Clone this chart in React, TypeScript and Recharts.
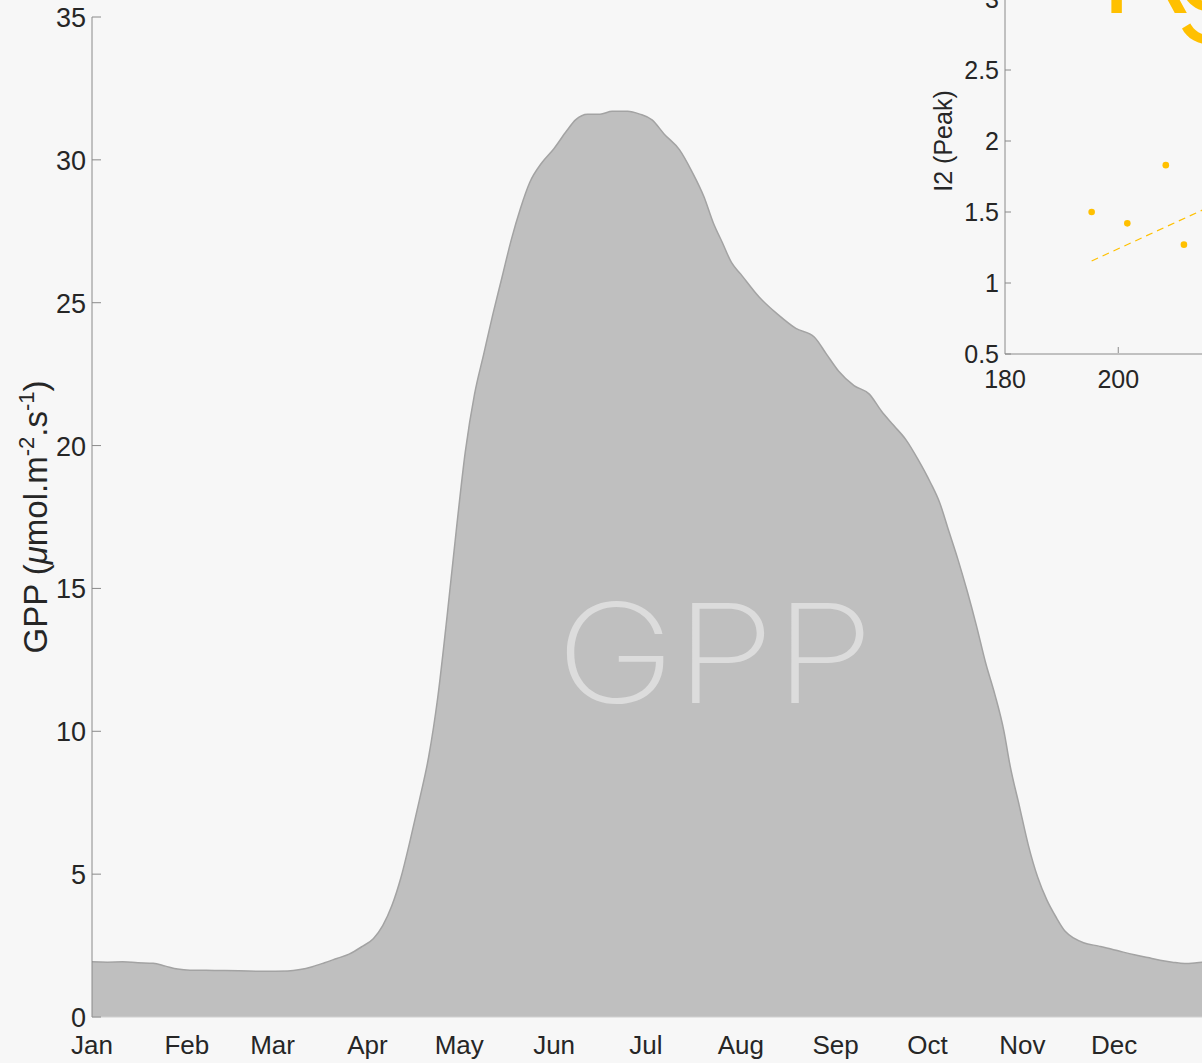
import {
  AreaChart,
  Area,
  XAxis,
  YAxis,
  ScatterChart,
  Scatter,
} from 'recharts';

// day of year -> GPP (µmol m-2 s-1)
const days = [
  0, 5, 10, 15, 20, 24, 28, 32, 40, 48, 56, 64, 68, 72, 76, 80, 84, 88, 92, 95,
  98, 101, 104, 107, 110, 113, 116, 119, 122, 125, 128, 131, 134, 137, 140, 143,
  147, 151, 155, 158, 162, 166, 170, 175, 179, 183, 187, 192, 196, 200, 203, 206,
  209, 212, 218, 224, 230, 236, 240, 244, 249, 254, 258, 262, 266, 270, 274, 277,
  280, 283, 286, 289, 292, 295, 298, 300, 303, 306, 309, 312, 315, 318, 321, 324,
  329, 333, 337, 341, 345, 349, 353, 357, 361, 365,
];
const gpp = [
  1.93, 1.92, 1.93, 1.9, 1.88, 1.78, 1.68, 1.64, 1.63, 1.62, 1.6, 1.61, 1.66,
  1.76, 1.9, 2.05, 2.2, 2.45, 2.75, 3.2, 3.9, 4.9, 6.2, 7.6, 9.1, 11.2, 14.0,
  17.0, 19.8, 21.8, 23.2, 24.6, 25.9, 27.2, 28.3, 29.2, 29.9, 30.4, 31.0, 31.4,
  31.6, 31.6, 31.7, 31.7, 31.6, 31.4, 30.9, 30.35, 29.6, 28.7, 27.8, 27.1, 26.4,
  26.0, 25.2, 24.6, 24.1, 23.8, 23.2, 22.6, 22.1, 21.8, 21.2, 20.7, 20.2, 19.5,
  18.7, 18.0, 17.0, 16.0, 14.9, 13.7, 12.4, 11.3, 10.0, 8.8, 7.4, 6.0, 4.9, 4.1,
  3.5, 3.0, 2.75, 2.6, 2.48, 2.38, 2.27, 2.17, 2.08, 1.99, 1.92, 1.87, 1.9, 1.95,
];

const monthStarts = [0, 31, 59, 90, 120, 151, 181, 212, 243, 273, 304, 334];
const monthNames = [
  'Jan', 'Feb', 'Mar', 'Apr', 'May', 'Jun',
  'Jul', 'Aug', 'Sep', 'Oct', 'Nov', 'Dec',
];
const gppTicks = [0, 5, 10, 15, 20, 25, 30, 35];

// inset: peak timing vs I2
const peakDay = [195.3, 201.6, 208.4, 211.6];
const i2Peak = [1.5, 1.42, 1.83, 1.27];
const fitDay = [195.3, 255];
const fitI2 = [1.155, 2.25];
const insetXTicks = [180, 200, 220, 240, 260];
const insetYTicks = [0.5, 1, 1.5, 2, 2.5, 3];

const gppData = days.map((d, i) => ({ day: d, gpp: gpp[i] }));
const peakData = peakDay.map((d, i) => ({ x: d, y: i2Peak[i] }));
const fitData = fitDay.map((d, i) => ({ x: d, y: fitI2[i] }));

const FONT = '"Liberation Sans", Arial, sans-serif';
const TXT = '#262626';
const AXIS = '#8a8a8a';
const YELLOW = '#FFC000';

function MainYTick({ x, y, payload }: any) {
  return (
    <g>
      <line x1={92} x2={101} y1={y} y2={y} stroke={AXIS} strokeWidth={1} />
      <text x={x + 2} y={y} dy={10} textAnchor="end" fontSize={27} fill={TXT} fontFamily={FONT}>
        {payload.value}
      </text>
    </g>
  );
}

function MainXTick({ x, y, payload }: any) {
  const idx = monthStarts.indexOf(payload.value);
  return (
    <text x={x} y={y + 29} textAnchor="middle" fontSize={26} fill={TXT} fontFamily={FONT}>
      {monthNames[idx]}
    </text>
  );
}

function GppLabel() {
  return (
    <text
      transform="translate(47 517) rotate(-90)"
      textAnchor="middle"
      fontSize={33}
      fill={TXT}
      fontFamily={FONT}
    >
      GPP (<tspan fontStyle="italic">μ</tspan>mol.m
      <tspan dy={-13} fontSize={22}>-2</tspan>
      <tspan dy={13}>.s</tspan>
      <tspan dy={-13} fontSize={22}>-1</tspan>
      <tspan dy={13}>)</tspan>
    </text>
  );
}

function InsetYTick({ x, y, payload }: any) {
  return (
    <g>
      <line x1={80} x2={86} y1={y} y2={y} stroke={AXIS} strokeWidth={1} />
      <text x={x + 2} y={y} dy={9} textAnchor="end" fontSize={25} fill={TXT} fontFamily={FONT}>
        {payload.value}
      </text>
    </g>
  );
}

function InsetXTick({ x, y, payload }: any) {
  return (
    <g>
      {payload.value !== 180 && (
        <line x1={x} x2={x} y1={y - 9} y2={y - 15} stroke={AXIS} strokeWidth={1} />
      )}
      <text x={x} y={y + 26} textAnchor="middle" fontSize={25} fill={TXT} fontFamily={FONT}>
        {payload.value}
      </text>
    </g>
  );
}

function I2Label() {
  return (
    <text
      transform="translate(27 162) rotate(-90)"
      textAnchor="middle"
      fontSize={25}
      fill={TXT}
      fontFamily={FONT}
    >
      I2 (Peak)
    </text>
  );
}

export default function App() {
  return (
    <div
      style={{
        position: 'fixed',
        left: 0,
        top: 0,
        width: 1202,
        height: 1063,
        overflow: 'hidden',
        background: '#f7f7f7',
      }}
    >
      <AreaChart
        width={1230}
        height={1063}
        data={gppData}
        margin={{ top: 17, right: 21, left: 0, bottom: 0 }}
      >
        <XAxis
          dataKey="day"
          type="number"
          domain={[0, 365]}
          ticks={monthStarts}
          tick={<MainXTick />}
          tickLine={false}
          axisLine={{ stroke: '#d0d0d0' }}
          height={46}
          interval={0}
          allowDataOverflow
        />
        <YAxis
          type="number"
          domain={[0, 35]}
          ticks={gppTicks}
          width={92}
          tick={<MainYTick />}
          tickLine={false}
          axisLine={{ stroke: AXIS }}
          interval={0}
          label={<GppLabel />}
        />
        <Area
          type="monotone"
          dataKey="gpp"
          stroke="#a3a3a3"
          strokeWidth={1.5}
          fill="#bfbfbf"
          fillOpacity={1}
          isAnimationActive={false}
        />
      </AreaChart>

      <div style={{ position: 'absolute', left: 925, top: -21 }}>
        <ScatterChart width={560} height={420} margin={{ top: 20, right: 27, left: 0, bottom: 0 }}>
          <XAxis
            dataKey="x"
            type="number"
            domain={[180, 260]}
            ticks={insetXTicks}
            tick={<InsetXTick />}
            tickLine={false}
            axisLine={{ stroke: AXIS }}
            height={45}
            interval={0}
          />
          <YAxis
            dataKey="y"
            type="number"
            domain={[0.5, 3]}
            ticks={insetYTicks}
            width={80}
            tick={<InsetYTick />}
            tickLine={false}
            axisLine={{ stroke: AXIS }}
            interval={0}
            label={<I2Label />}
          />
          <Scatter
            data={fitData}
            line={{ stroke: YELLOW, strokeWidth: 1.2, strokeDasharray: '7 5' }}
            shape={() => null}
            isAnimationActive={false}
          />
          <Scatter
            data={peakData}
            fill={YELLOW}
            shape={(p: any) => <circle cx={p.cx} cy={p.cy} r={3.3} fill={YELLOW} />}
            isAnimationActive={false}
          />
        </ScatterChart>
      </div>

      <svg
        width={1202}
        height={1063}
        style={{ position: 'absolute', left: 0, top: 0, pointerEvents: 'none' }}
      >
        <text
          x={556}
          y={703}
          fontSize={138}
          fontWeight={200}
          fontFamily='Inter, "Open Sans", sans-serif'
          fill="#dcdcdc"
          textLength={318}
          lengthAdjust="spacingAndGlyphs"
        >
          GPP
        </text>
        <text
          x={1097}
          y={13}
          fontSize={150}
          fontWeight={300}
          fontFamily='Inter, "Open Sans", sans-serif'
          fill={YELLOW}
          letterSpacing={-20}
        >
          Rg
        </text>
      </svg>
    </div>
  );
}
